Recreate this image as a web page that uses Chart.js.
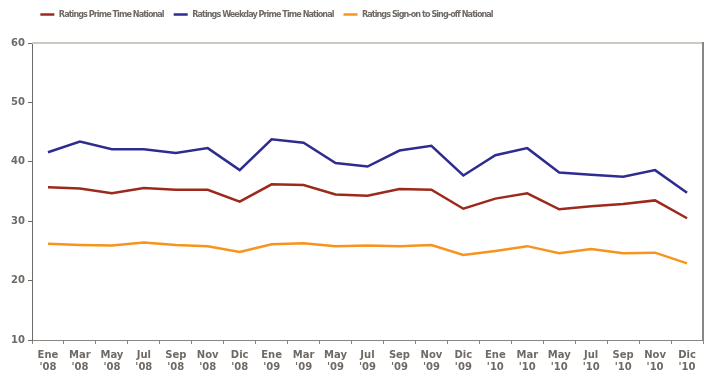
<!DOCTYPE html>
<html lang="es">
<head>
    <meta charset="UTF-8">
    <title>Ratings</title>
    <script src="https://cdn.jsdelivr.net/npm/chart.js"></script>
    <style>
        html, body { margin: 0; padding: 0; background: #fff; }
        #wrap { width: 713px; height: 380px; }
    </style>
</head>
<body>
<div id="wrap"><canvas id="ratings"></canvas></div>
<script>
    // Meses (dos lineas por etiqueta)
    const months = ['Ene', 'Mar', 'May', 'Jul', 'Sep', 'Nov', 'Dic',
                    'Ene', 'Mar', 'May', 'Jul', 'Sep', 'Nov', 'Dic',
                    'Ene', 'Mar', 'May', 'Jul', 'Sep', 'Nov', 'Dic'];
    const years = ["'08", "'08", "'08", "'08", "'08", "'08", "'08",
                   "'09", "'09", "'09", "'09", "'09", "'09", "'09",
                   "'10", "'10", "'10", "'10", "'10", "'10", "'10"];

    const primeTime = [35.7, 35.5, 34.7, 35.6, 35.3, 35.3, 33.3, 36.2, 36.1, 34.5, 34.3,
                       35.4, 35.3, 32.1, 33.8, 34.7, 32.0, 32.5, 32.9, 33.5, 30.5];
    const weekdayPrime = [41.6, 43.4, 42.1, 42.1, 41.5, 42.3, 38.6, 43.8, 43.2, 39.8, 39.2,
                          41.9, 42.7, 37.7, 41.1, 42.3, 38.2, 37.8, 37.5, 38.6, 34.8];
    const signOn = [26.2, 26.0, 25.9, 26.4, 26.0, 25.8, 24.8, 26.1, 26.3, 25.8, 25.9,
                    25.8, 26.0, 24.3, 25.0, 25.8, 24.6, 25.3, 24.6, 24.7, 22.9];

    const yTicks = [10, 20, 30, 40, 50, 60];

    const labels = months.map((m, i) => [m, years[i]]);
    const textColor = '#6f6a66';

    // borde superior y derecho del area de trazado
    const frame = {
        id: 'frame',
        afterDraw(chart) {
            const { ctx, chartArea: a } = chart;
            ctx.save();
            ctx.lineWidth = 2;
            ctx.strokeStyle = '#cdc9c2';
            ctx.beginPath();
            ctx.moveTo(a.left, a.top);
            ctx.lineTo(a.right, a.top);
            ctx.stroke();
            ctx.strokeStyle = '#8a8684';
            ctx.beginPath();
            ctx.moveTo(a.right, a.top - 1);
            ctx.lineTo(a.right, a.bottom);
            ctx.stroke();
            ctx.restore();
        }
    };

    // leyenda estrecha, un poco a la izquierda, como en la hoja original
    const narrowLegend = {
        id: 'narrowLegend',
        beforeLayout(chart) {
            const lg = chart.legend;
            if (!lg || lg._narrow) return;
            lg._narrow = true;
            const fit = lg.fit.bind(lg);
            const draw = lg.draw.bind(lg);
            lg.fit = function () {
                const ctx = this.ctx;
                ctx.save();
                ctx.fontStretch = 'condensed';
                ctx.letterSpacing = '-0.95px';
                fit();
                ctx.restore();
                this.height = 43;
            };
            lg.draw = function () {
                const ctx = this.ctx;
                ctx.save();
                ctx.fontStretch = 'condensed';
                ctx.letterSpacing = '-0.95px';
                ctx.translate(-85, 0);
                draw();
                ctx.restore();
            };
        }
    };

    const series = [
        { label: 'Ratings Prime Time National', data: primeTime, color: '#9c2a1c' },
        { label: 'Ratings Weekday Prime Time National', data: weekdayPrime, color: '#2e2d8f' },
        { label: 'Ratings Sign-on to Sing-off National', data: signOn, color: '#f7941d' }
    ];

    new Chart(document.getElementById('ratings'), {
        type: 'line',
        data: {
            labels: labels,
            datasets: series.map(s => ({
                label: s.label,
                data: s.data,
                borderColor: s.color,
                backgroundColor: s.color,
                borderWidth: 2.5,
                pointBorderColor: s.color,
                pointBorderWidth: 2.5,
                pointRadius: 0,
                tension: 0
            }))
        },
        options: {
            responsive: true,
            maintainAspectRatio: false,
            animation: false,
            layout: { padding: { left: 0, right: 10, top: 0, bottom: 0 } },
            plugins: {
                tooltip: { enabled: false },
                legend: {
                    position: 'top',
                    labels: {
                        usePointStyle: true,
                        pointStyle: 'line',
                        pointStyleWidth: 14,
                        boxHeight: 9,
                        padding: 10,
                        color: textColor,
                        font: { family: '"DejaVu Sans Condensed", "DejaVu Sans", sans-serif', size: 9, weight: 'bold' }
                    }
                }
            },
            scales: {
                x: {
                    offset: true,
                    grid: { display: true, drawOnChartArea: false, offset: true, tickLength: 4, color: '#8a8684' },
                    border: { color: '#8a8684', width: 1 },
                    ticks: {
                        color: textColor,
                        maxRotation: 0,
                        autoSkip: false,
                        padding: 5,
                        font: { family: '"DejaVu Sans", sans-serif', size: 10, weight: 'bold', lineHeight: 1.2 }
                    },
                    afterFit: s => { s.height = 40; }
                },
                y: {
                    min: 10,
                    max: 60,
                    afterBuildTicks: s => { s.ticks = yTicks.map(v => ({ value: v })); },
                    grid: { display: true, drawOnChartArea: false, tickLength: 4, color: '#6f6a66' },
                    border: { color: '#6f6a66', width: 1 },
                    ticks: {
                        color: textColor,
                        padding: 3,
                        font: { family: '"DejaVu Sans", sans-serif', size: 10, weight: 'bold' }
                    },
                    afterFit: s => { s.width = 32; }
                }
            }
        },
        plugins: [frame, narrowLegend]
    });
</script>
</body>
</html>
